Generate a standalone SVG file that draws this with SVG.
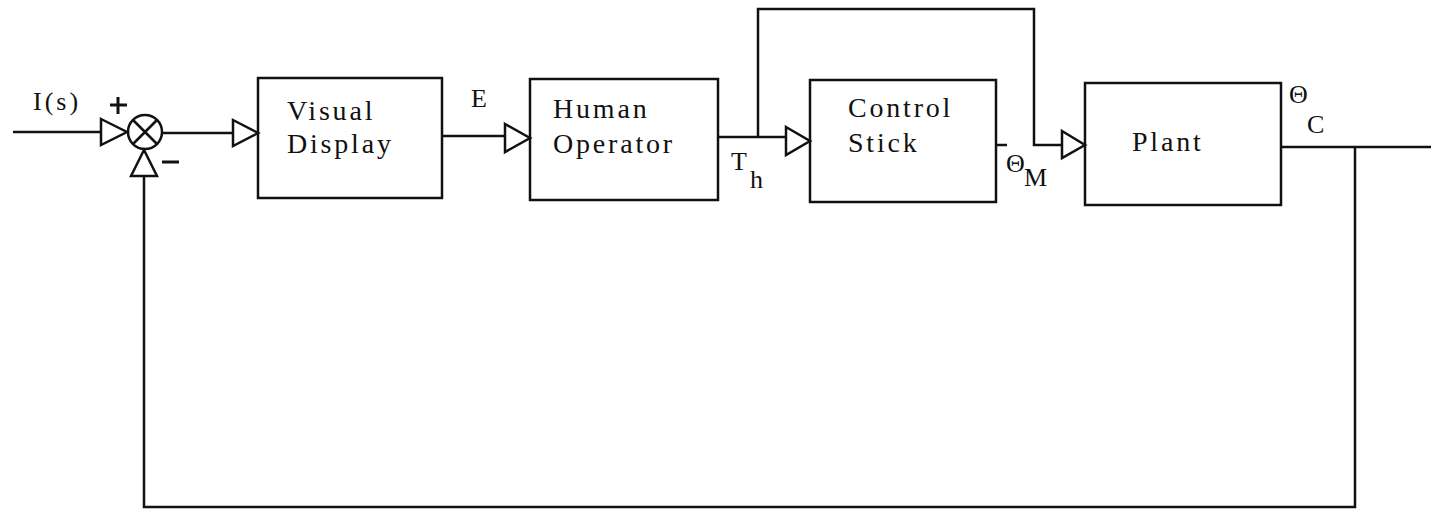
<svg xmlns="http://www.w3.org/2000/svg" width="1431" height="509" viewBox="0 0 1431 509">
<style>
.b{fill:none;stroke:#111;stroke-width:2.5}
.l{fill:none;stroke:#111;stroke-width:2.5;stroke-linejoin:miter}
.t{fill:#fff;stroke:#111;stroke-width:2.5;stroke-linejoin:miter}
text{font-family:"Liberation Serif","DejaVu Serif",serif;font-size:28px;fill:#111;letter-spacing:2.8px}
.s{font-size:26px;letter-spacing:0}
</style>
<rect width="1431" height="509" fill="#fff"/>
<g id="connectors">
<path class="l" d="M13,132 H101"/>
<path class="l" d="M162,133 H233"/>
<path class="l" d="M442,136 H505"/>
<path class="l" d="M718,137 H786"/>
<path class="l" d="M758,137 V9 H1034 V145 H1062"/>
<path class="l" d="M996,145 H1007"/>
<path class="l" d="M1281,147 H1431"/>
<path class="l" d="M1355,147 V507 H144 V176"/>
<polygon class="t" points="101,119 127,132 101,145"/>
<polygon class="t" points="131,176 144,150 157,176"/>
<polygon class="t" points="233,120 258,133 233,146"/>
<polygon class="t" points="505,124 530,138 505,152"/>
<polygon class="t" points="786,127 810,141 786,155"/>
<polygon class="t" points="1062,131 1085,145 1062,158"/>
</g>
<g id="sum">
<circle class="b" cx="145" cy="132" r="17"/>
<path class="l" d="M133,120 L157,144 M157,120 L133,144"/>
<path class="l" d="M118,97 V114 M110,105 H127" style="stroke-width:3"/>
<path class="l" d="M162,162 H179" style="stroke-width:3"/>
</g>
<g id="input-label"><text x="33" y="110" class="s" style="letter-spacing:3px">I(s)</text></g>
<g id="visual-display">
<rect class="b" x="258" y="78" width="184" height="120"/>
<text x="287" y="120">Visual</text>
<text x="287" y="153">Display</text>
</g>
<g id="e-label"><text x="471" y="107" class="s">E</text></g>
<g id="human-operator">
<rect class="b" x="530" y="79" width="188" height="121"/>
<text x="553" y="118">Human</text>
<text x="553" y="153">Operator</text>
</g>
<g id="th-label"><text x="731" y="170" class="s">T</text><text x="750" y="188" class="s">h</text></g>
<g id="control-stick">
<rect class="b" x="810" y="80" width="186" height="122"/>
<text x="848" y="117">Control</text>
<text x="848" y="152">Stick</text>
</g>
<g id="thm-label"><text x="1006" y="172" class="s">Θ</text><text x="1024" y="186" class="s">M</text></g>
<g id="plant">
<rect class="b" x="1085" y="83" width="196" height="122"/>
<text x="1132" y="151">Plant</text>
</g>
<g id="thc-label"><text x="1289" y="103" class="s">Θ</text><text x="1307" y="133" class="s">C</text></g>
</svg>
